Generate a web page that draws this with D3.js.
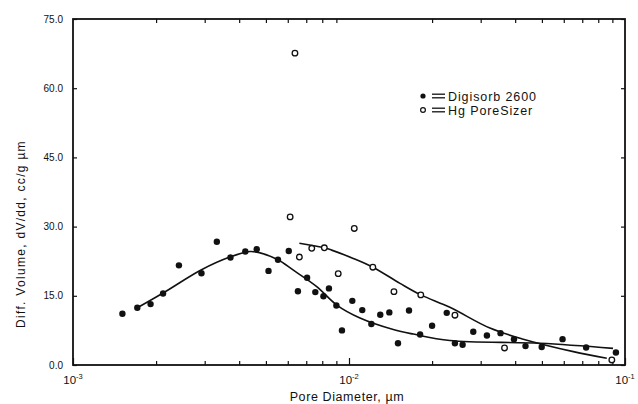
<!DOCTYPE html>
<html>
<head>
<meta charset="utf-8">
<script src="https://cdn.jsdelivr.net/npm/d3@7"></script>
<style>
  body { margin: 0; background: #fff; }
  text { font-family: "Liberation Sans", Arial, sans-serif; fill: #111; }
</style>
</head>
<body>
<svg width="638" height="404"></svg>
<script>
// Digisorb 2600 points [pore diameter um, dV/dd]
const digisorb = [
  [0.00151, 11.1], [0.00171, 12.4], [0.00191, 13.2], [0.00212, 15.5], [0.00242, 21.6],
  [0.00292, 19.9], [0.00332, 26.7], [0.00372, 23.3], [0.00421, 24.6], [0.00463, 25.1],
  [0.00511, 20.4], [0.00553, 22.8], [0.00605, 24.7], [0.00653, 16.0], [0.00705, 18.9],
  [0.00755, 15.8], [0.00808, 14.9], [0.00846, 16.6], [0.0090, 12.9], [0.00943, 7.5],
  [0.01028, 13.9], [0.01117, 11.9], [0.01205, 8.9], [0.01298, 10.9], [0.0140, 11.4],
  [0.01505, 4.7], [0.0165, 11.8], [0.0181, 6.6], [0.0200, 8.5], [0.0226, 11.3],
  [0.0242, 4.7], [0.0258, 4.4], [0.0282, 7.2], [0.0316, 6.4], [0.0354, 6.9],
  [0.0396, 5.6], [0.0436, 4.1], [0.0499, 3.9], [0.0594, 5.6], [0.0723, 3.8], [0.0927, 2.7]
];
// Hg PoreSizer points
const poresizer = [
  [0.00637, 67.6], [0.00612, 32.1], [0.00661, 23.4], [0.00733, 25.3], [0.00814, 25.4],
  [0.00914, 19.8], [0.01045, 29.6], [0.0122, 21.2], [0.01455, 15.9], [0.0182, 15.2],
  [0.0242, 10.8], [0.0366, 3.7], [0.0896, 1.1]
];
// fitted curves
const digisorbFit = [
  [0.00171, 12.4], [0.00212, 15.6], [0.00291, 20.6], [0.00370, 23.4], [0.00438, 24.6],
  [0.00476, 24.3], [0.00553, 22.8], [0.00627, 20.6], [0.00764, 17.0], [0.00903, 13.0],
  [0.01096, 10.2], [0.01447, 7.7], [0.0171, 6.7], [0.0232, 5.3], [0.0492, 4.7], [0.0905, 3.6]
];
const poresizerFit = [
  [0.00661, 26.4], [0.00814, 25.4], [0.00865, 24.9], [0.01036, 23.1], [0.0122, 21.2],
  [0.0153, 17.7], [0.0182, 15.2], [0.0232, 12.5], [0.0324, 8.0], [0.0428, 5.6],
  [0.0650, 2.9], [0.0859, 1.45]
];
const yTicks = [0, 15, 30, 45, 60, 75];
const xMajor = [0.001, 0.01, 0.1];
const xExp = ["-3", "-2", "-1"];
const legendLabels = ["Digisorb 2600", "Hg PoreSizer"];

const svg = d3.select("svg");
const mLeft = 73, mRight = 625, mTop = 19, mBottom = 365;

const x = d3.scaleLog().domain([0.001, 0.1]).range([mLeft, mRight]);
const y = d3.scaleLinear().domain([0, 75]).range([mBottom, mTop]);

// minor ticks 2..9 per decade
const minor = [];
[0.001, 0.01].forEach(d => { for (let k = 2; k <= 9; k++) minor.push(d * k); });

const g = svg.append("g");

// bottom / top axes with inward ticks
g.append("g").attr("transform", `translate(0,${mBottom})`)
  .call(d3.axisBottom(x).tickValues(minor).tickSize(-4).tickFormat(""))
  .call(a => a.select(".domain").remove());
g.append("g").attr("transform", `translate(0,${mBottom})`)
  .call(d3.axisBottom(x).tickValues(xMajor).tickSize(-7).tickFormat(""))
  .call(a => a.select(".domain").remove());
g.append("g").attr("transform", `translate(0,${mTop})`)
  .call(d3.axisTop(x).tickValues(minor).tickSize(-4).tickFormat(""))
  .call(a => a.select(".domain").remove());

// left / right axes
g.append("g").attr("transform", `translate(${mLeft},0)`)
  .call(d3.axisLeft(y).tickValues(yTicks).tickSize(-4).tickFormat(""))
  .call(a => a.select(".domain").remove());
g.append("g").attr("transform", `translate(${mRight},0)`)
  .call(d3.axisRight(y).tickValues(yTicks).tickSize(-4).tickFormat(""))
  .call(a => a.select(".domain").remove());
g.selectAll(".tick line").attr("stroke", "#111").attr("stroke-width", 1.2);

// frame
g.append("rect")
  .attr("x", mLeft).attr("y", mTop)
  .attr("width", mRight - mLeft).attr("height", mBottom - mTop)
  .attr("fill", "none").attr("stroke", "#111").attr("stroke-width", 1.8);

// y tick labels
g.selectAll(".ylab").data(yTicks).enter().append("text")
  .attr("x", mLeft - 10).attr("y", d => y(d) + 3.5)
  .attr("text-anchor", "end").attr("font-size", 10)
  .text(d => d.toFixed(1));

// x tick labels 10^n
const xl = g.selectAll(".xlab").data(xMajor).enter().append("text")
  .attr("x", d => x(d)).attr("y", mBottom + 19)
  .attr("text-anchor", "middle").attr("font-size", 11.5);
xl.append("tspan").text("10");
xl.append("tspan").attr("dy", -5).attr("font-size", 7.5).text((d, i) => xExp[i]);

// axis titles
g.append("text").attr("x", (mLeft + mRight) / 2 - 2).attr("y", 401)
  .attr("text-anchor", "middle").attr("font-size", 12.5).attr("letter-spacing", 0.6)
  .text("Pore Diameter, \u00b5m");
g.append("text")
  .attr("transform", `translate(25,${(mTop + mBottom) / 2 + 42}) rotate(-90)`)
  .attr("text-anchor", "middle").attr("font-size", 12).attr("letter-spacing", 1.3)
  .text("Diff. Volume, dV/dd, cc/g \u00b5m");

// fitted curves
const line = d3.line().x(d => x(d[0])).y(d => y(d[1])).curve(d3.curveCatmullRom);
g.append("path").datum(digisorbFit).attr("d", line)
  .attr("fill", "none").attr("stroke", "#111").attr("stroke-width", 1.6);
g.append("path").datum(poresizerFit).attr("d", line)
  .attr("fill", "none").attr("stroke", "#111").attr("stroke-width", 1.6);

// points
g.selectAll(".dg").data(digisorb).enter().append("circle")
  .attr("cx", d => x(d[0])).attr("cy", d => y(d[1])).attr("r", 3.2)
  .attr("fill", "#111");
g.selectAll(".hg").data(poresizer).enter().append("circle")
  .attr("cx", d => x(d[0])).attr("cy", d => y(d[1])).attr("r", 2.8)
  .attr("fill", "#fff").attr("stroke", "#111").attr("stroke-width", 1.3);

// legend
const lg = g.append("g").attr("transform", "translate(423,96)");
lg.append("circle").attr("cx", 0).attr("cy", 0).attr("r", 2.6).attr("fill", "#111");
lg.append("circle").attr("cx", 0).attr("cy", 14).attr("r", 2.4)
  .attr("fill", "#fff").attr("stroke", "#111").attr("stroke-width", 1.2);
[0, 14].forEach(cy => {
  lg.append("line").attr("x1", 9).attr("x2", 22).attr("y1", cy - 1.8).attr("y2", cy - 1.8).attr("stroke", "#111").attr("stroke-width", 1.3);
  lg.append("line").attr("x1", 9).attr("x2", 22).attr("y1", cy + 1.8).attr("y2", cy + 1.8).attr("stroke", "#111").attr("stroke-width", 1.3);
});
lg.selectAll("text").data(legendLabels).enter().append("text")
  .attr("x", 25).attr("y", (d, i) => i * 14 + 4.5)
  .attr("font-size", 12.5).attr("letter-spacing", 0.9)
  .text(d => d);
</script>
</body>
</html>
